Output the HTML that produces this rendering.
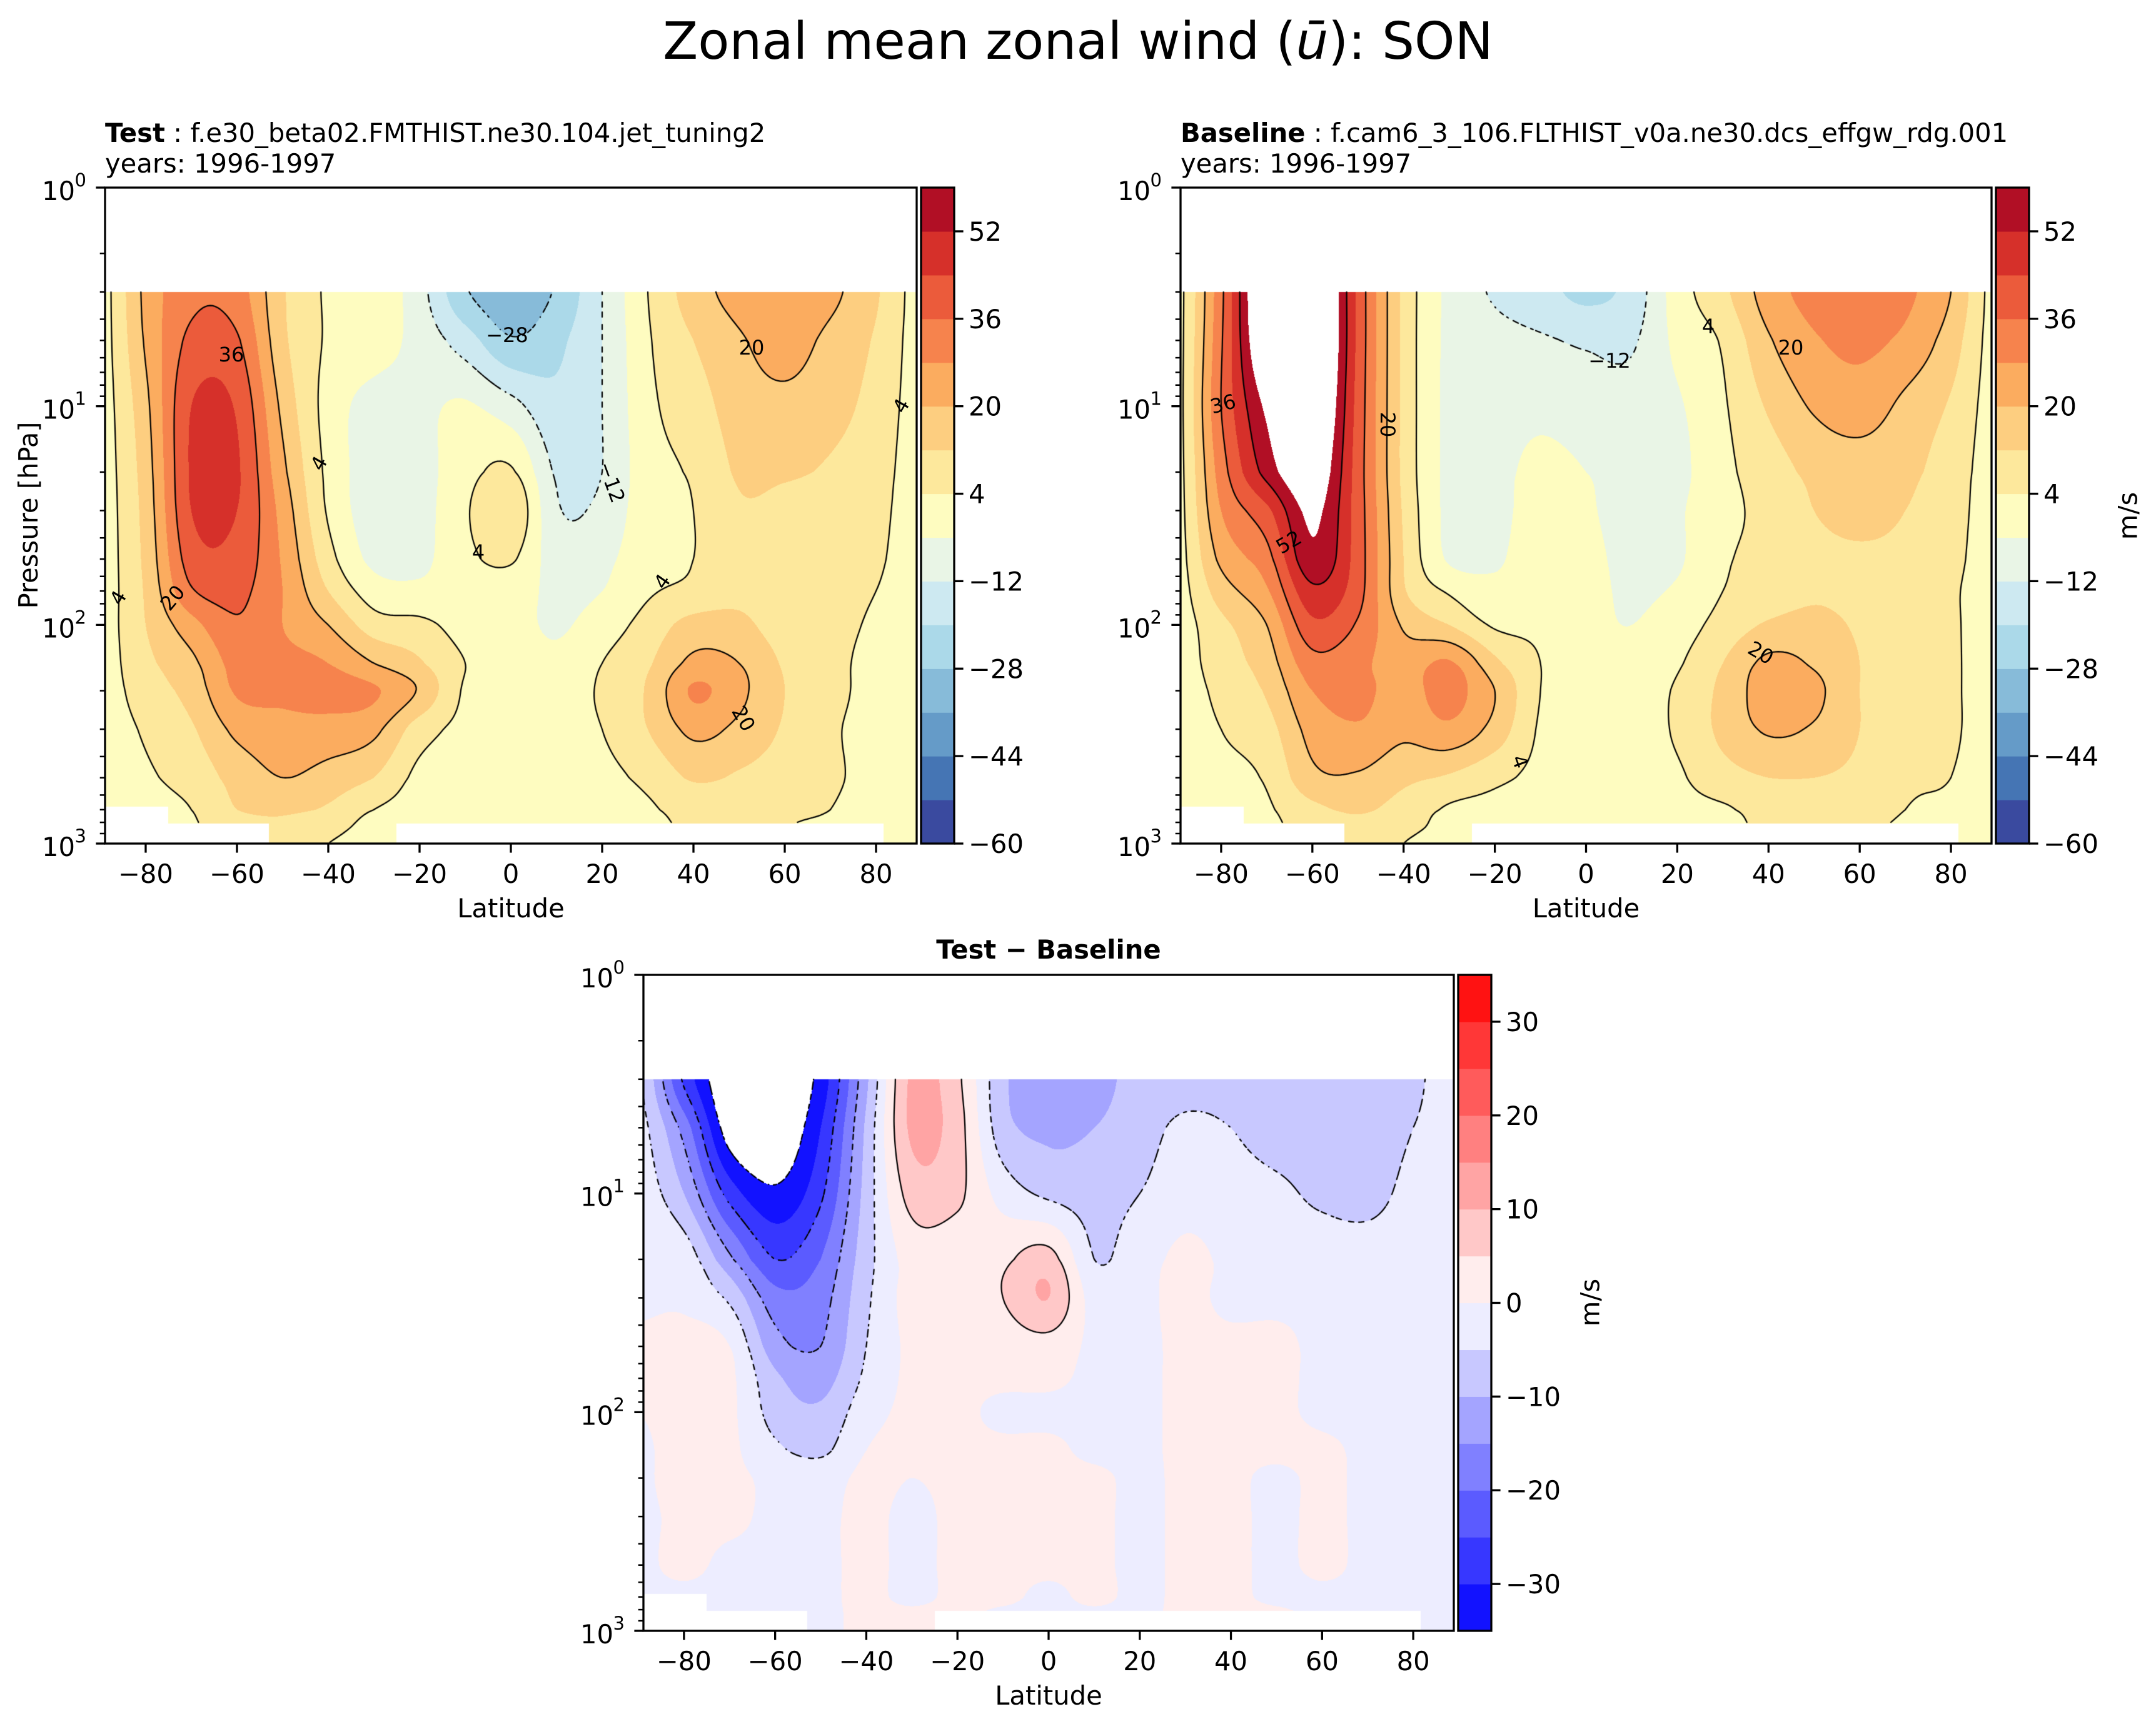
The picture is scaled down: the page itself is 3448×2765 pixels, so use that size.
<!DOCTYPE html>
<html><head><meta charset="utf-8"><title>Zonal mean zonal wind SON</title>
<style>
body{margin:0;width:3448px;height:2765px;position:relative;background:#fff;overflow:hidden;font-family:"DejaVu Sans","Liberation Sans",sans-serif;}
canvas{position:absolute;}
svg{position:absolute;left:0;top:0;}
svg text{font-family:"DejaVu Sans","Liberation Sans",sans-serif;fill:#000;}
</style></head>
<body>
<svg id="ov" width="3448" height="2765">
  <text x="1724" y="94" text-anchor="middle" font-size="82">Zonal mean zonal wind (<tspan font-style="italic">ū</tspan>): SON</text>
  <text x="168" y="227" font-size="41.7"><tspan font-weight="bold">Test</tspan> : f.e30_beta02.FMTHIST.ne30.104.jet_tuning2</text>
  <text x="168" y="276" font-size="41.7">years: 1996-1997</text>
  <text x="1888" y="227" font-size="41.7"><tspan font-weight="bold">Baseline</tspan> : f.cam6_3_106.FLTHIST_v0a.ne30.dcs_effgw_rdg.001</text>
  <text x="1888" y="276" font-size="41.7">years: 1996-1997</text>
  <text x="1677" y="1533" text-anchor="middle" font-size="41.7" font-weight="bold">Test − Baseline</text>
  <text transform="translate(60,824) rotate(-90)" text-anchor="middle" font-size="41.7">Pressure [hPa]</text>
  <text transform="translate(3403,825) rotate(-90)" text-anchor="middle" dominant-baseline="central" font-size="41.7">m/s</text>
  <text transform="translate(2543,2083) rotate(-90)" text-anchor="middle" dominant-baseline="central" font-size="41.7">m/s</text>
</svg>
<script>
// ---------------- data ----------------
const lats = [-90,-80,-70,-60,-50,-40,-30,-20,-10,0,10,20,30,40,50,60,70,80,90];
const pLevels = [3,5,10,20,30,50,70,100,150,200,300,500,700,850,1000];
// values per latitude column (top -> bottom pressure), m/s
const testU = [
 [0,0,0,0,0,0,0,0,0,0,0,0,0,0,0],
 [22,21,18,16,15,14,13,12,10,8,5,3,2,1,0],
 [34,38,44,45,44,40,35,25,18,15,11,7,4,3,2],
 [32,37,43,45,44,41,38,35,31,29,22,15,12,8,5],
 [13,14,18,22,25,27,28,28,30,30,25,20,13,11,8],
 [3,3,1,2,3,7,12,20,28,31,25,17,11,7,4],
 [2,0,-7,-8,-8,-6,0,8,20,29,22,12,4,1,0],
 [-9,-7,-6,-7,-7,-6,-2,6,13,19,8,2,1,0,0],
 [-27,-16,-3,1,3,2,0,1,4,3,2,1,0,0,0],
 [-33,-27,-9,5,11,5,0,-1,1,2,2,1,1,1,0],
 [-27,-22,-18,-13,-11,-8,-6,-5,-2,1,2,1,1,1,0],
 [-12,-12,-12,-12,-10,-6,-4,0,4,5,4,2,1,1,0],
 [4,3,2,1,1,1,3,7,11,13,12,6,3,2,1],
 [16,12,8,5,4,4,6,15,22,29,22,13,7,5,3],
 [23,19,16,13,11,9,10,14,20,22,18,11,7,5,3],
 [26,23,18,13,10,8,7,8,11,12,11,8,5,4,3],
 [22,18,15,11,9,7,6,6,6,6,5,5,4,3,2],
 [13,11,9,7,6,5,4,3,2,2,2,2,1,1,1],
 [0,0,0,0,0,0,0,0,0,0,0,0,0,0,0]
];
const baseU = [
 [0,0,0,0,0,0,0,0,0,0,0,0,0,0,0],
 [34,35,36,32,28,22,16,10,8,6,4,2,1,0,0],
 [75,72,62,55,42,33,27,20,16,13,9,5,3,2,1],
 [80,80,75,68,62,58,50,42,33,28,23,18,10,7,4],
 [42,42,41,40,40,40,39,35,30,30,27,19,13,10,8],
 [10,10,10,10,11,12,13,19,24,25,22,14,9,6,4],
 [-6,-6,-6,-6,-6,-5,3,12,29,31,26,11,3,2,1],
 [-13,-9,-7,-6,-6,-5,-2,3,14,20,17,6,2,1,0],
 [-17,-11,-6,-2,-1,0,0,2,4,4,3,2,1,0,0],
 [-22,-13,-8,-4,-3,-2,-2,-2,-2,-1,0,0,0,0,0],
 [-17,-13,-9,-7,-7,-6,-5,-4,-2,0,1,2,2,1,0],
 [0,-2,-5,-6,-5,-5,-3,0,3,5,5,3,2,1,1],
 [10,5,3,2,2,3,4,7,12,14,14,9,3,2,1],
 [24,19,13,8,6,6,8,13,22,24,21,12,7,5,3],
 [31,27,21,14,12,10,11,14,19,22,19,12,7,5,3],
 [35,30,24,16,14,11,10,11,12,12,12,10,7,5,4],
 [30,26,18,14,12,10,8,7,6,6,6,5,4,3,2],
 [20,16,11,8,7,6,5,5,5,5,5,4,3,2,1],
 [0,0,0,0,0,0,0,0,0,0,0,0,0,0,0]
];
const diffU = [
 [-4,-3,-2,-1,-1,1,1,0,-1,-1,-1,-1,-1,-1,-1],
 [-26,-17,-10,-2,-1,2,2,2,2,2,1,1,-1,-1,-1],
 [-40,-38,-27,-14,-6,0,1,1,1,1,1,-1,-1,-1,-1],
 [-40,-40,-34,-25,-18,-13,-9,-7,-4,-1,-1,-1,-1,-1,-1],
 [-33,-30,-26,-20,-17,-15,-12,-9,-6,-2,-1,-1,-1,-1,-1],
 [-11,-9,-8,-7,-6,-5,-4,-2,0,1,1,1,1,1,1],
 [11,11,7,2,2,1,1,1,1,0,-1,-1,-1,1,1],
 [6,7,6,2,2,1,1,1,1,1,1,1,1,1,1],
 [-9,-8,-2,4,5,2,1,-1,1,1,1,1,1,-1,-1],
 [-13,-11,-6,7,10,3,1,-1,1,1,1,1,-1,-1,-1],
 [-12,-10,-7,-5,-2,-1,-1,-1,-1,1,1,1,1,-1,-1],
 [-8,-7,-5,-2,-1,-1,-1,-1,-1,-1,-1,-1,-1,-1,-1],
 [-7,-4,-2,1,1,1,1,1,1,1,1,1,1,1,1],
 [-7,-5,-3,-1,-1,1,1,1,1,1,1,1,1,1,1],
 [-8,-7,-4,-2,-1,1,1,1,1,-1,-1,-1,-1,1,1],
 [-8,-7,-6,-2,-1,-1,-1,-1,1,1,1,1,-1,-1,-1],
 [-8,-8,-7,-2,-1,-1,-1,-1,-1,-1,-1,-1,-1,-1,-1],
 [-6,-5,-3,-1,-1,-1,-1,-1,-1,-1,-1,-1,-1,-1,-1],
 [-2,-2,-1,-1,-1,-1,-1,-1,-1,-1,-1,-1,-1,-1,-1]
];
const latTicks = [-80,-60,-40,-20,0,20,40,60,80];
const uTicks = [52,36,20,4,-12,-28,-44,-60];
const dTicks = [30,20,10,0,-10,-20,-30];
const uLineLevels = [-28,-12,4,20,36,52];
const dLineLevels = [-35,-25,-15,-5,5,15,25];

// ---------------- styling ----------------
const uColors = ['#3a4a9f','#4575b4','#659bc8','#87bbd9','#abd9e9','#cde9f1','#e9f5e6','#fefcc0','#fde89c','#fdce80','#fbac5f','#f6834d','#eb5b3b','#d6302a','#b10f25'];
const dColors = ['#1212ff','#3737ff','#5b5bff','#8080ff','#a4a4ff','#c8c8ff','#ededff','#ffeded','#ffc8c8','#ffa4a4','#ff8080','#ff5b5b','#ff3737','#ff1212'];
const scales = {
  u:{min:-60, step:8, n:15, colors:uColors, lines:uLineLevels, ticks:uTicks},
  d:{min:-35, step:5, n:14, colors:dColors, lines:dLineLevels, ticks:dTicks}
};
const latMin = -88.9, latMax = 88.9, pTop = 3;
const panels = [
  {id:'test', x:168, y:300, w:1298, h:1049, cbx:1473, field:testU, scale:'u'},
  {id:'baseline', x:1888, y:300, w:1297, h:1049, cbx:3192, field:baseU, scale:'u'},
  {id:'diff', x:1029, y:1559, w:1296, h:1049, cbx:2332, field:diffU, scale:'d'}
];
const logs = pLevels.map(p => Math.log10(p));
const NS = 'http://www.w3.org/2000/svg';
const ov = document.getElementById('ov');

function cr(p0, p1, p2, p3, t){
  return p1 + 0.5 * t * (p2 - p0 + t * (2*p0 - 5*p1 + 4*p2 - p3 + t * (3*(p1 - p2) + p3 - p0)));
}
function sample(field, lat, lp){
  const nI = lats.length, nJ = logs.length;
  let fi = (lat - lats[0]) / 10;
  let i = Math.min(nI - 2, Math.max(0, Math.floor(fi)));
  let fx = Math.min(1, Math.max(0, fi - i));
  let j = 0;
  while (j < nJ - 2 && lp > logs[j+1]) j++;
  let fy = (lp - logs[j]) / (logs[j+1] - logs[j]);
  fy = Math.min(1, Math.max(0, fy));
  const ci = k => Math.min(nI - 1, Math.max(0, k));
  const cj = k => Math.min(nJ - 1, Math.max(0, k));
  const col = [];
  for (let a = -1; a <= 2; a++){
    const c = field[ci(i + a)];
    col.push(cr(c[cj(j-1)], c[cj(j)], c[cj(j+1)], c[cj(j+2)], fy));
  }
  return cr(col[0], col[1], col[2], col[3], fx);
}
function masked(lat, p){
  if (p < pTop) return true;
  if (lat < -75 && p > 677) return true;
  if (lat >= -75 && lat < -53 && p > 809) return true;
  if (lat > -25 && lat < 81.6 && p > 809) return true;
  return false;
}
function hex(c){ return [parseInt(c.substr(1,2),16), parseInt(c.substr(3,2),16), parseInt(c.substr(5,2),16)]; }
function svgText(x, y, str, size, anchor){
  const t = document.createElementNS(NS, 'text');
  t.setAttribute('x', x); t.setAttribute('y', y);
  t.setAttribute('font-size', size);
  if (anchor) t.setAttribute('text-anchor', anchor);
  t.textContent = str;
  ov.appendChild(t);
  return t;
}
function svgLine(x1, y1, x2, y2, sw){
  const l = document.createElementNS(NS, 'line');
  l.setAttribute('x1', x1); l.setAttribute('y1', y1);
  l.setAttribute('x2', x2); l.setAttribute('y2', y2);
  l.setAttribute('stroke', '#000'); l.setAttribute('stroke-width', sw);
  ov.appendChild(l);
  return l;
}
const fmt = v => (v < 0 ? '\u2212' + Math.abs(v) : '' + v);

panels.forEach(P => {
  const S = scales[P.scale];
  const rgb = S.colors.map(hex);
  const cv = document.createElement('canvas');
  
  
  cv.width = P.w; cv.height = P.h;
  cv.style.left = P.x + 'px'; cv.style.top = P.y + 'px';
  document.body.insertBefore(cv, ov);
  const ctx = cv.getContext('2d');
  const img = ctx.createImageData(P.w, P.h);
  const lpTop = Math.log10(pTop);
  for (let py = 0; py < P.h; py++){
    const lp = (py + 0.5) / P.h * 3;
    if (lp < lpTop) continue;
    const p = Math.pow(10, lp);
    for (let px = 0; px < P.w; px++){
      const lat = latMin + (px + 0.5) / P.w * (latMax - latMin);
      if (masked(lat, p)) continue;
      const v = sample(P.field, lat, lp);
      const k = Math.floor((v - S.min) / S.step);
      if (k < 0 || k >= S.n) continue;
      const o = (py * P.w + px) * 4;
      img.data[o] = rgb[k][0]; img.data[o+1] = rgb[k][1]; img.data[o+2] = rgb[k][2]; img.data[o+3] = 255;
    }
  }
  ctx.putImageData(img, 0, 0);
  // contour lines (marching squares)
  const s = 4;
  const gy0 = Math.ceil(P.h * lpTop / 3);
  const nx = Math.floor(P.w / s) + 1, ny = Math.floor((P.h - gy0) / s) + 1;
  const G = [];
  for (let j = 0; j < ny; j++){
    const row = [];
    const yy = gy0 + j * s, lp = yy / P.h * 3, p = Math.pow(10, lp);
    for (let i = 0; i < nx; i++){
      const xx = i * s, lat = latMin + xx / P.w * (latMax - latMin);
      row.push(masked(lat, p) ? null : sample(P.field, lat, lp));
    }
    G.push(row);
  }
  ctx.strokeStyle = '#000'; ctx.lineWidth = 2.2; ctx.lineCap = 'round';
  S.lines.forEach(L => {
    ctx.beginPath();
    for (let j = 0; j < ny - 1; j++){
      for (let i = 0; i < nx - 1; i++){
        const a = G[j][i], b = G[j][i+1], c = G[j+1][i+1], d = G[j+1][i];
        if (a === null || b === null || c === null || d === null) continue;
        const x0 = i * s, y0 = gy0 + j * s, pts = [];
        if ((a - L) * (b - L) < 0) pts.push([x0 + s * (L - a) / (b - a), y0]);
        if ((b - L) * (c - L) < 0) pts.push([x0 + s, y0 + s * (L - b) / (c - b)]);
        if ((d - L) * (c - L) < 0) pts.push([x0 + s * (L - d) / (c - d), y0 + s]);
        if ((a - L) * (d - L) < 0) pts.push([x0, y0 + s * (L - a) / (d - a)]);
        if (L < 0 && (Math.floor(x0 / 9) + Math.floor(y0 / 9)) % 2 === 1) continue;
        for (let q = 0; q + 1 < pts.length; q += 2){
          ctx.moveTo(pts[q][0], pts[q][1]); ctx.lineTo(pts[q+1][0], pts[q+1][1]);
        }
      }
    }
    ctx.stroke();
  });

  // axes frame
  const fr = document.createElementNS(NS, 'rect');
  
  
  fr.setAttribute('x', P.x); fr.setAttribute('y', P.y);
  fr.setAttribute('width', P.w); fr.setAttribute('height', P.h);
  fr.setAttribute('fill', 'none'); fr.setAttribute('stroke', '#000'); fr.setAttribute('stroke-width', 3.3);
  ov.appendChild(fr);
  // x ticks
  latTicks.forEach(t => {
    const X = P.x + (t - latMin) / (latMax - latMin) * P.w;
    const tk = svgLine(X, P.y + P.h, X, P.y + P.h + 14.6, 3.3);
    
    
    const lb = svgText(X, P.y + P.h + 63, fmt(t), 41.7, 'middle');
    
    
  });
  const xl = svgText(P.x + P.w / 2, P.y + P.h + 118, 'Latitude', 41.7, 'middle');
  
  
  // y ticks (log)
  for (let k = 0; k <= 3; k++){
    const Y = P.y + k / 3 * P.h;
    const tk = svgLine(P.x - 14.6, Y, P.x, Y, 3.3);
    
    
    const lb = svgText(P.x - 48, Y + 20, '10', 41.7, 'end');
    
    
    const sp = svgText(P.x - 30, Y - 2, '' + k, 29, 'end');
    
    
    if (k < 3){
      for (let m = 2; m <= 9; m++){
        const Ym = P.y + (k + Math.log10(m)) / 3 * P.h;
        const mt = svgLine(P.x - 8.3, Ym, P.x, Ym, 2.5);
        
        
      }
    }
  }
  // colorbar
  const span = S.n * S.step;
  const vy = v => P.y + P.h - (v - S.min) / span * P.h;
  for (let i = 0; i < S.n; i++){
    const r = document.createElementNS(NS, 'rect');
    
    
    const yt = vy(S.min + (i + 1) * S.step), yb = vy(S.min + i * S.step);
    r.setAttribute('x', P.cbx); r.setAttribute('y', yt);
    r.setAttribute('width', 53); r.setAttribute('height', yb - yt + 0.6);
    r.setAttribute('fill', S.colors[i]);
    ov.appendChild(r);
  }
  const cbo = document.createElementNS(NS, 'rect');
  
  
  cbo.setAttribute('x', P.cbx); cbo.setAttribute('y', P.y);
  cbo.setAttribute('width', 53); cbo.setAttribute('height', P.h);
  cbo.setAttribute('fill', 'none'); cbo.setAttribute('stroke', '#000'); cbo.setAttribute('stroke-width', 3.3);
  ov.appendChild(cbo);
  S.ticks.forEach(t => {
    const Y = vy(t);
    const tk = svgLine(P.cbx + 53, Y, P.cbx + 67.6, Y, 3.3);
    
    
    const lb = svgText(P.cbx + 76, Y + 15, fmt(t), 41.7, 'start');
    
    
  });
});

// inline contour labels
const contourLabelPlacements = [
 [370,567,'36',0],[811,536,'\u221228',0],[1202,556,'20',0],[1441,649,'4',-60],[510,741,'4',-60],
 [978,771,'\u221212',70],[765,883,'4',0],[1059,930,'4',-55],[189,956,'4',-60],[276,956,'20',-50],[1189,1149,'20',60],
 [1956,646,'36',-15],[2219,679,'20',90],[2061,867,'52',-30],[2574,577,'\u221212',0],[2732,522,'4',0],
 [2864,556,'20',0],[2816,1044,'20',30],[2431,1218,'4',70]
];
contourLabelPlacements.forEach(c => {
  const t = svgText(0, 0, c[2], 32, 'middle');
  t.setAttribute('dominant-baseline', 'central');
  t.setAttribute('transform', 'translate(' + c[0] + ',' + c[1] + ') rotate(' + c[3] + ')');
  
  
});
</script>
</body></html>
